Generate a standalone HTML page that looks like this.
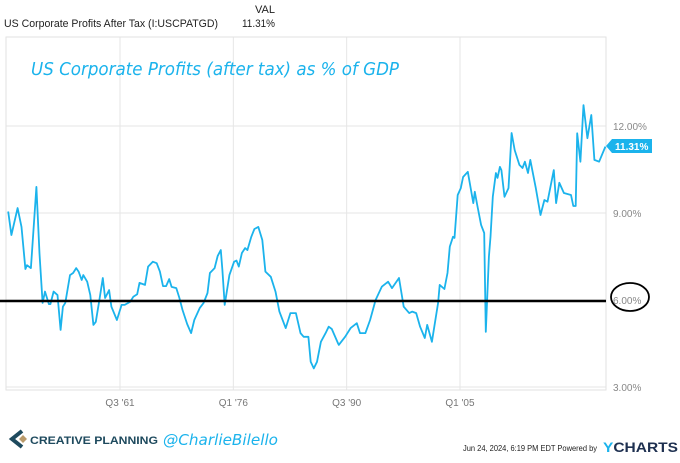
<!DOCTYPE html>
<html><head><meta charset="utf-8"><style>
body{margin:0;background:#fff;width:680px;height:458px;overflow:hidden;font-family:"Liberation Sans",sans-serif}
</style></head><body>
<svg width="680" height="458" viewBox="0 0 680 458">
<text x="255" y="13" font-size="11" textLength="20" lengthAdjust="spacingAndGlyphs" fill="#222">VAL</text>
<text x="4" y="27" font-size="11" textLength="214" lengthAdjust="spacingAndGlyphs" fill="#222">US Corporate Profits After Tax (I:USCPATGD)</text>
<text x="242" y="27" font-size="11" textLength="33" lengthAdjust="spacingAndGlyphs" fill="#222">11.31%</text>
<g id="grid"></g>
<rect x="6" y="37" width="600" height="353" fill="none" stroke="#e2e2e2" stroke-width="1"/>
<text x="31" y="75" font-size="18" fill="#1bb3ec" font-style="italic" textLength="368" lengthAdjust="spacingAndGlyphs" font-family="DejaVu Sans, sans-serif">US Corporate Profits (after tax) as % of GDP</text>
<g id="series"></g>
<line x1="0" y1="301" x2="606" y2="301" stroke="#000" stroke-width="2.5"/>
<g id="ylabels"></g>
<ellipse cx="630" cy="297" rx="19" ry="14" fill="none" stroke="#000" stroke-width="1.8"/>
<g id="xlabels"></g>
<g>
<path d="M606,146 L612,139 L652,139 L652,153 L612,153 Z" fill="#1bb3ec"/>
<text x="615" y="150" font-size="10" font-weight="bold" fill="#fff">11.31%</text>
</g>
<g>
<path d="M22,431 L12,439 L22,447" fill="none" stroke="#1e4a5e" stroke-width="4"/>
<path d="M19,439 L23,435 L27,439 L23,443 Z" fill="#b99a6a"/>
<text x="30" y="444" font-size="11" font-weight="bold" textLength="128" lengthAdjust="spacingAndGlyphs" fill="#1e4a5e">CREATIVE PLANNING</text>
<text x="163" y="445" font-size="15" font-style="italic" textLength="115" lengthAdjust="spacingAndGlyphs" fill="#1bb3ec" font-family="DejaVu Sans, sans-serif">@CharlieBilello</text>
</g>
<text x="463" y="451" font-size="8.5" textLength="134" lengthAdjust="spacingAndGlyphs" fill="#222">Jun 24, 2024, 6:19 PM EDT Powered by</text>
<text x="603" y="452" font-size="14" font-weight="bold" textLength="75" lengthAdjust="spacingAndGlyphs" fill="#1e3050"><tspan fill="#1bb3ec">Y</tspan>CHARTS</text>
</svg>
<script>
const years=[1947.2,1947.6,1948.4,1948.9,1949.4,1949.6,1950.1,1950.8,1951.2,1951.6,1951.9,1952.4,1952.6,1953.0,1953.5,1953.9,1954.2,1954.5,1955.1,1955.5,1955.9,1956.2,1956.6,1956.8,1957.3,1957.7,1958.1,1958.4,1958.9,1959.3,1959.6,1960.1,1960.4,1961.1,1961.7,1962.1,1962.8,1963.2,1963.7,1964.0,1964.7,1965.1,1965.7,1966.2,1966.6,1967.0,1967.4,1967.8,1968.1,1968.7,1969.1,1969.5,1970.1,1970.6,1971.0,1971.7,1972.2,1972.7,1973.0,1973.6,1974.0,1974.4,1974.6,1974.9,1975.5,1976.1,1976.4,1976.7,1977.1,1977.5,1977.8,1978.3,1978.7,1979.2,1979.7,1980.1,1980.8,1981.4,1981.9,1982.7,1983.3,1984.0,1984.6,1985.0,1985.6,1985.9,1986.3,1986.7,1987.2,1987.8,1988.2,1988.6,1989.4,1989.5,1990.3,1991.0,1991.8,1992.2,1992.9,1993.5,1994.2,1995.0,1995.8,1996.3,1997.2,1997.8,1998.5,1998.9,1999.4,1999.9,2000.5,2000.8,2001.4,2002.2,2002.4,2003.0,2003.4,2003.7,2004.1,2004.3,2004.7,2005.1,2005.4,2006.0,2006.7,2006.9,2007.2,2007.7,2008.1,2008.3,2008.7,2008.9,2009.2,2009.6,2009.8,2010.1,2010.3,2010.7,2011.2,2011.6,2012.0,2012.6,2013.0,2013.3,2013.7,2014.0,2014.7,2015.3,2015.8,2016.2,2017.0,2017.3,2017.7,2018.3,2019.2,2019.5,2019.8,2020.0,2020.4,2020.8,2021.3,2021.8,2022.2,2022.8,2023.6];
const values=[9.05,8.24,9.17,8.52,7.07,7.2,7.1,9.9,7.6,5.9,6.29,5.86,5.86,6.29,6.17,4.97,5.77,5.9,6.86,6.93,7.1,6.98,6.69,6.86,6.63,6.17,5.14,5.25,6.07,6.76,6.07,6.34,5.77,5.31,5.83,5.83,5.94,6.11,6.2,6.59,6.52,7.15,7.32,7.27,6.98,6.48,6.48,6.72,6.45,6.41,6.07,5.66,5.17,4.86,5.31,5.72,5.9,6.24,6.93,7.1,7.52,7.72,7.03,5.83,6.86,7.32,7.36,7.15,7.62,7.79,7.72,8.18,8.45,8.52,8.07,6.98,6.8,6.29,5.6,5.03,5.55,5.55,4.86,4.73,4.73,3.87,3.64,3.87,4.56,4.86,5.08,5.0,4.5,4.45,4.73,5.03,5.2,4.86,4.86,5.31,6.0,6.46,6.63,6.41,6.76,5.77,5.55,5.6,5.55,5.08,4.69,5.14,4.56,5.9,6.52,6.38,6.93,7.84,8.18,8.14,9.62,9.86,10.24,10.42,9.34,9.73,9.28,8.59,8.31,4.9,7.49,8.18,9.56,10.38,10.21,10.59,10.48,9.56,9.86,11.76,11.17,10.66,10.55,10.77,10.38,10.83,9.86,8.93,9.45,9.39,10.48,9.34,10.04,9.69,9.62,9.24,9.24,11.75,10.77,12.72,11.58,12.38,10.83,10.77,11.29];
const yTicks=[3,6,9,12];
const yTickLabels=["3.00%","6.00%","9.00%","12.00%"];
const xTicks=[1961.5,1976.0,1990.5,2005.0];
const xTickLabels=["Q3 '61","Q1 '76","Q3 '90","Q1 '05"];
const NS="http://www.w3.org/2000/svg";
function xS(t){return 120+(t-1961.5)*7.816;}
function yS(v){return 387-(v-3)*29;}
const grid=document.getElementById('grid'),yl=document.getElementById('ylabels'),xl=document.getElementById('xlabels');
yTicks.forEach((v,i)=>{
 const l=document.createElementNS(NS,'line');
 
 
 l.setAttribute('x1',6);l.setAttribute('x2',606);l.setAttribute('y1',yS(v));l.setAttribute('y2',yS(v));
 l.setAttribute('stroke','#e6e6e6');grid.appendChild(l);
 const t=document.createElementNS(NS,'text');
 
 
 t.setAttribute('x',613);t.setAttribute('y',yS(v)+4);t.setAttribute('font-size','10');t.setAttribute('fill','#888');
 t.textContent=yTickLabels[i];yl.appendChild(t);
});
xTicks.forEach((v,i)=>{
 const l=document.createElementNS(NS,'line');
 
 
 l.setAttribute('x1',xS(v));l.setAttribute('x2',xS(v));l.setAttribute('y1',37);l.setAttribute('y2',390);
 l.setAttribute('stroke','#e6e6e6');grid.appendChild(l);
 const t=document.createElementNS(NS,'text');
 
 
 t.setAttribute('x',xS(v));t.setAttribute('y',406);t.setAttribute('font-size','10');t.setAttribute('fill','#777');t.setAttribute('text-anchor','middle');
 t.textContent=xTickLabels[i];xl.appendChild(t);
});
const p=document.createElementNS(NS,'path');


p.setAttribute('d',years.map((t,i)=>(i?'L':'M')+xS(t).toFixed(1)+','+yS(values[i]).toFixed(1)).join(' '));
p.setAttribute('fill','none');p.setAttribute('stroke','#1bb3ec');p.setAttribute('stroke-width','1.8');p.setAttribute('stroke-linejoin','round');
document.getElementById('series').appendChild(p);
</script>
</body></html>
